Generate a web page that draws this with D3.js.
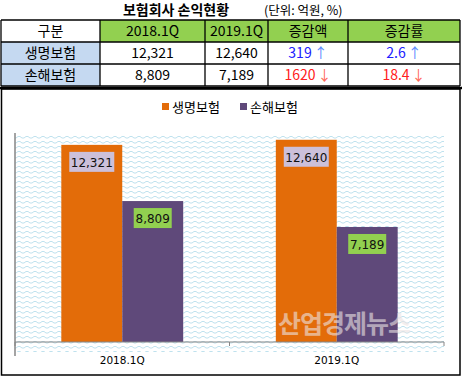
<!DOCTYPE html>
<html>
<head>
<meta charset="utf-8">
<script src="https://cdn.jsdelivr.net/npm/d3@7"></script>
<style>
  body { margin:0; background:#fff; }
  svg { display:block; }
</style>
</head>
<body>
<div id="chart"></div>
<script>
// data
var categories = ["2018.1Q", "2019.1Q"];
var seriesNames = ["생명보험", "손해보험"];
var lifeValues = [12321, 12640];
var nonLifeValues = [8809, 7189];
var changeAmount = ["319", "1620"];
var changeRate = ["2.6", "18.4"];
var changeDir = ["up", "down"];
var tableHeader = ["구분", "2018.1Q", "2019.1Q", "증감액", "증감률"];

var W = 462, H = 377;
var font = "'Noto Sans CJK KR', 'Noto Sans', sans-serif";
var orange = "#e36c09", purple = "#5f497a";

var svg = d3.select("#chart").append("svg")
  .attr("width", W).attr("height", H);

var defs = svg.append("defs");
var pat = defs.append("pattern")
  .attr("id", "wave")
  .attr("patternUnits", "userSpaceOnUse")
  .attr("width", 8).attr("height", 5);
pat.append("rect").attr("width", 8).attr("height", 5).attr("fill", "#fff");
pat.append("path")
  .attr("d", "M0,3 L2,1.5 L4,1.5 L6,3 L8,3")
  .attr("fill", "none")
  .attr("stroke", "#bfe2ee")
  .attr("stroke-width", 1);

// title
svg.append("text")
  .attr("x", 176).attr("y", 15)
  .attr("text-anchor", "middle")
  .attr("font-family", font).attr("font-size", 14).attr("font-weight", "bold")
  .text("보험회사 손익현황");
svg.append("text")
  .attr("x", 264).attr("y", 15)
  .attr("font-family", font).attr("font-size", 12.5)
  .text("(단위: 억원, %)");

// table
var colX = [1, 100, 205, 268, 348, 460];
var rowY = [20, 42, 64, 86];
var rows = [
  [seriesNames[0], lifeValues[0], lifeValues[1], changeAmount[0], changeRate[0]],
  [seriesNames[1], nonLifeValues[0], nonLifeValues[1], changeAmount[1], changeRate[1]]
];
var table = svg.append("g");
// header fills
tableHeader.forEach(function(h, i){
  table.append("rect")
    .attr("x", colX[i]).attr("y", rowY[0])
    .attr("width", colX[i+1]-colX[i]).attr("height", rowY[1]-rowY[0])
    .attr("fill", i == 0 ? "#fff" : "#92d050");
  table.append("text")
    .attr("x", (colX[i]+colX[i+1])/2).attr("y", rowY[0]+16)
    .attr("text-anchor", "middle")
    .attr("font-family", font).attr("font-size", 14)
    .text(h);
});
rows.forEach(function(r, ri){
  var y0 = rowY[ri+1], y1 = rowY[ri+2];
  table.append("rect")
    .attr("x", colX[0]).attr("y", y0)
    .attr("width", colX[1]-colX[0]).attr("height", y1-y0)
    .attr("fill", "#c5d9f1");
  r.forEach(function(v, ci){
    var cx = (colX[ci]+colX[ci+1])/2;
    var t = table.append("text")
      .attr("x", cx).attr("y", y0+16)
      .attr("text-anchor", "middle")
      .attr("font-family", font).attr("font-size", 14);
    if(ci == 0){
      t.text(v);
    } else if(ci < 3){
      t.text(d3.format(",")(v));
    } else {
      var up = changeDir[ri] == "up";
      t.append("tspan").attr("fill", up ? "#2020ff" : "#ff2020").text(v);
      t.append("tspan").attr("fill", up ? "#5b8bff" : "#ff6a5a").attr("dx", 2).text(up ? "↑" : "↓");
    }
  });
});
// grid lines
rowY.forEach(function(yy){
  table.append("line").attr("x1", colX[0]).attr("x2", colX[5])
    .attr("y1", yy).attr("y2", yy).attr("stroke", "#000").attr("stroke-width", 1.3);
});
colX.forEach(function(xx){
  table.append("line").attr("x1", xx).attr("x2", xx)
    .attr("y1", rowY[0]).attr("y2", rowY[3]).attr("stroke", "#000").attr("stroke-width", 1.3);
});
table.append("line").attr("x1", 0).attr("x2", 462)
  .attr("y1", 88).attr("y2", 88).attr("stroke", "#000").attr("stroke-width", 2.5);

// chart box
svg.append("rect")
  .attr("x", 1.5).attr("y", 89).attr("width", 458.5).attr("height", 286)
  .attr("fill", "none").attr("stroke", "#000").attr("stroke-width", 1.5);

var plotL = 15, plotR = 444, plotT = 134, base = 342;
var x0 = d3.scaleBand().domain(categories).range([plotL, plotR]);
var x1 = d3.scaleBand().domain(seriesNames).range([0, x0.bandwidth()]).paddingInner(0).paddingOuter(0.76);
var y = d3.scaleLinear().domain([0, 13000]).range([base, plotT]);

// plot background pattern
svg.append("rect")
  .attr("x", plotL).attr("y", plotT)
  .attr("width", plotR-plotL).attr("height", 352-plotT)
  .attr("fill", "url(#wave)");

// bars
var colors = [orange, purple];
var labelFill = ["#ccc0da", "#92d050"];
var groups = svg.selectAll(".grp").data(categories).enter().append("g")
  .attr("transform", function(d){ return "translate(" + x0(d) + ",0)"; });
groups.each(function(cat, i){
  var g = d3.select(this);
  var vals = [lifeValues[i], nonLifeValues[i]];
  vals.forEach(function(v, s){
    var bx = x1(seriesNames[s]), bw = x1.bandwidth();
    g.append("rect")
      .attr("x", bx).attr("y", y(v))
      .attr("width", bw).attr("height", base - y(v))
      .attr("fill", colors[s]);
  });
});

// axes
var xAxis = svg.append("g")
  .attr("transform", "translate(0," + base + ")");
xAxis.append("line").attr("x1", plotL).attr("x2", plotR)
  .attr("stroke", "#868686").attr("stroke-width", 1);
[plotL, (plotL+plotR)/2, plotR].forEach(function(tx){
  xAxis.append("line").attr("x1", tx).attr("x2", tx).attr("y1", 0).attr("y2", 4)
    .attr("stroke", "#868686");
});
categories.forEach(function(c){
  xAxis.append("text")
    .attr("x", x0(c) + x0.bandwidth()/2).attr("y", 22)
    .attr("text-anchor", "middle")
    .attr("font-family", "'DejaVu Sans', sans-serif").attr("font-size", 10.5)
    .text(c);
});
svg.append("line").attr("x1", plotL).attr("x2", plotL)
  .attr("y1", plotT - 1).attr("y2", 356)
  .attr("stroke", "#868686").attr("stroke-width", 1.5);

// watermark
svg.append("text")
  .attr("x", 278).attr("y", 333)
  .attr("font-family", font).attr("font-size", 25).attr("font-weight", "bold")
  .attr("fill", "#ece4e4").attr("opacity", 0.6)
  .attr("letter-spacing", -1)
  .text("산업경제뉴스");

// data labels
groups.each(function(cat, i){
  var g = d3.select(this);
  var vals = [lifeValues[i], nonLifeValues[i]];
  vals.forEach(function(v, s){
    var bx = x1(seriesNames[s]), bw = x1.bandwidth();
    var txt = d3.format(",")(v);
    var boxW = s == 0 ? 45 : 38, boxH = 20;
    var by = y(v) + 7;
    g.append("rect")
      .attr("x", bx + bw/2 - boxW/2).attr("y", by)
      .attr("width", boxW).attr("height", boxH)
      .attr("fill", labelFill[s]);
    g.append("text")
      .attr("x", bx + bw/2).attr("y", by + 15)
      .attr("text-anchor", "middle")
      .attr("font-family", "'DejaVu Sans', sans-serif").attr("font-size", 12)
      .attr("fill", "#111")
      .text(txt);
  });
});

// legend
var legend = svg.append("g").attr("transform", "translate(162,100)");
seriesNames.forEach(function(n, i){
  var lx = i == 0 ? 0 : 78;
  legend.append("rect").attr("x", lx).attr("y", 3).attr("width", 7).attr("height", 7)
    .attr("fill", colors[i]);
  legend.append("text").attr("x", lx + 10).attr("y", 12)
    .attr("font-family", font).attr("font-size", 13)
    .text(n);
});
</script>
</body>
</html>
